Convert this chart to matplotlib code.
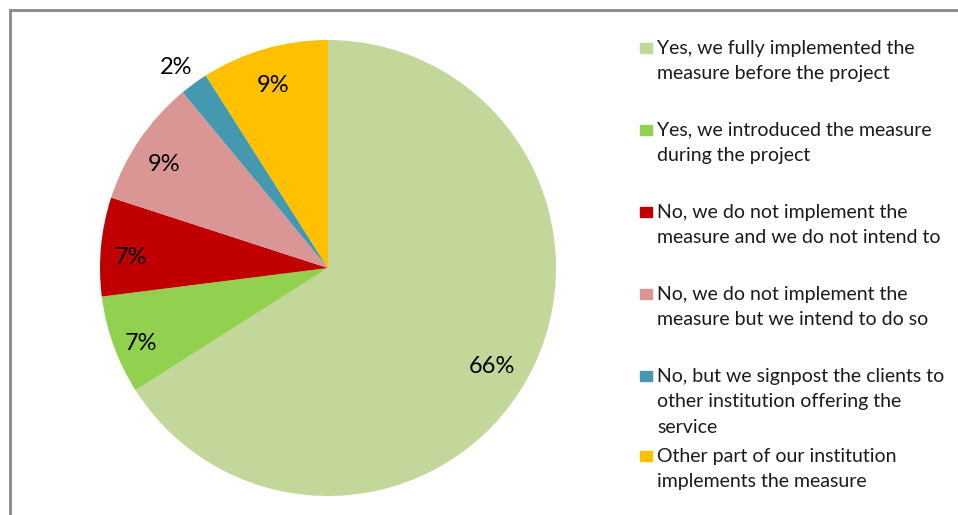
import numpy as np
import matplotlib.pyplot as plt
from matplotlib.patches import Rectangle

plt.rcParams['font.family'] = ['Lato', 'DejaVu Sans']

# Survey answers and their shares (%)
answers = [
    'Yes, we fully implemented the\nmeasure before the project',
    'Yes, we introduced the measure\nduring the project',
    'No, we do not implement the\nmeasure and we do not intend to',
    'No, we do not implement the\nmeasure but we intend to do so',
    'No, but we signpost the clients to\nother institution offering the\nservice',
    'Other part of our institution\nimplements the measure',
]
shares = [66, 7, 7, 9, 2, 9]
colors = ['#C4D79B', '#92D050', '#C00000', '#DA9694', '#4498B0', '#FFC000']

fig = plt.figure(figsize=(9.58, 5.15), dpi=100)
fig.patches.append(Rectangle((10 / 958, -0.1), 1.2, 1 - 10 / 515 + 0.1,
                             transform=fig.transFigure, fill=False,
                             edgecolor='#888888', linewidth=2))

# pie: center at (328, 268) px, radius 228 px
r_px = 228
ax = fig.add_axes([(328 - r_px) / 958, (515 - 268 - r_px) / 515,
                   2 * r_px / 958, 2 * r_px / 515])
wedges, texts, autotexts = ax.pie(
    shares, colors=colors, startangle=90, counterclock=False,
    autopct='%1.0f%%', pctdistance=0.87, radius=1,
    wedgeprops=dict(linewidth=0),
    textprops=dict(fontsize=17, color='black'))
ax.set_aspect('equal')
ax.set_xlim(-1, 1)
ax.set_ylim(-1, 1)

# 66% label sits closer to the middle, the 2% label outside the wedge
for i, w in enumerate(wedges):
    mid = np.deg2rad((w.theta1 + w.theta2) / 2)
    d = 0.87
    if i == 0:
        d = 0.82
    elif i == 4:
        d = 1.13
    autotexts[i].set_position((d * np.cos(mid), d * np.sin(mid) - 0.035))

# legend drawn as colored squares with wrapped text, 26 px per line
line_px = 26
entry_tops = [47, 129, 211, 293, 375, 455]
for label, color, y in zip(answers, colors, entry_tops):
    fig.patches.append(Rectangle((640 / 958, 1 - (y + 6) / 515), 12 / 958, 10 / 515,
                                 transform=fig.transFigure, color=color))
    n = label.count('\n') + 1
    fig.text(657 / 958, 1 - (y + 1 + (n - 1) * line_px / 2) / 515, label,
             fontsize=14, va='center', ha='left', linespacing=1.62,
             color='#1a1a1a')

fig.savefig('out.png', dpi=100)
